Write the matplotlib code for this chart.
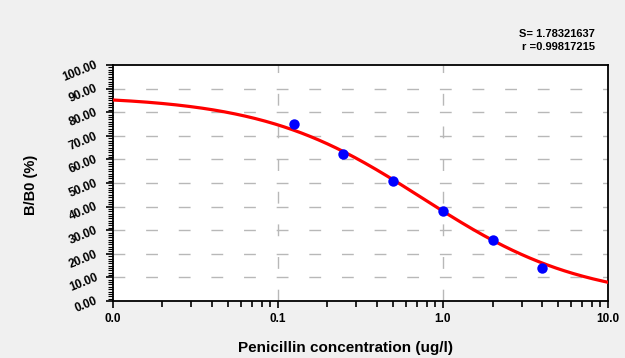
import numpy as np
import matplotlib
matplotlib.use("Agg")
import matplotlib.pyplot as plt
from matplotlib.ticker import FixedLocator, MultipleLocator, NullFormatter

plt.rcParams['font.family'] = ['Liberation Sans', 'DejaVu Sans']

# data
conc = [0.125, 0.25, 0.5, 1.0, 2.0, 4.0]
bb0 = [75.0, 62.5, 51.0, 38.1, 25.7, 14.0]
# fitted 4PL curve parameters (top, bottom, midpoint, slope)
fit_top, fit_bottom, fit_c, fit_b = 87.0, 0.0, 0.755, 0.89
x_ticks = [0.01, 0.1, 1.0, 10.0]
x_ticklabels = ["0.0", "0.1", "1.0", "10.0"]
y_ticks = list(range(0, 101, 10))
y_ticklabels = ["%.2f" % v for v in y_ticks]
stats_text = ["S= 1.78321637", "r =0.99817215"]

fig = plt.figure(figsize=(6.25, 3.58), dpi=100)
fig.patch.set_facecolor('#f0f0f0')
ax = fig.add_axes([112.5/625, 1-301/358, (608-112.5)/625, (301-65)/358])
ax.set_facecolor('white')

ax.set_xscale('log')
ax.set_xlim(0.01, 10)
ax.set_ylim(0, 100)

# grid
for yv in range(10, 100, 10):
    ax.axhline(yv, color='#b8b8b8', lw=1.0, linestyle=(0, (8.5, 15)), zorder=1)
for xv in [0.1, 1.0]:
    ax.axvline(xv, color='#b8b8b8', lw=1.0, linestyle=(0, (8.5, 15)), zorder=1)

# curve
xc = np.logspace(-2, 1, 400)
yc = fit_bottom + (fit_top - fit_bottom) / (1 + (xc / fit_c) ** fit_b)
ax.plot(xc, yc, color='#ff0000', lw=2.3, zorder=3, clip_on=True)

# points
ax.plot(conc, bb0, 'o', color='#0000ff', markersize=7.5, markeredgewidth=0, zorder=4)

# ticks
ax.xaxis.set_major_locator(FixedLocator(x_ticks))
ax.set_xticklabels(x_ticklabels, fontsize=8.5, fontweight='bold')
ax.xaxis.set_minor_locator(matplotlib.ticker.LogLocator(base=10, subs=np.arange(2, 10)))
ax.xaxis.set_minor_formatter(NullFormatter())
ax.tick_params(axis='x', which='major', direction='out', length=5, width=1.2, pad=4)
ax.tick_params(axis='x', which='minor', direction='out', length=4, width=1.2)

ax.yaxis.set_major_locator(FixedLocator(y_ticks))
ax.yaxis.set_minor_locator(MultipleLocator(1))
ax.set_yticklabels(y_ticklabels, fontsize=8.5, fontweight='bold', rotation=22,
                   rotation_mode='anchor', ha='right', va='center')
ax.tick_params(axis='y', which='major', direction='out', length=5, width=1.2, pad=6)
ax.tick_params(axis='y', which='minor', direction='out', length=3.5, width=0.8)

for s in ax.spines.values():
    s.set_linewidth(1.3)
    s.set_color('black')

fig.text(345/625, 1-348/358, "Penicillin concentration (ug/l)", fontsize=11,
         fontweight='bold', ha='center', va='center')
fig.text(31/625, 1-185/358, "B/B0 (%)", rotation=90, fontsize=10.5, fontweight='bold',
         ha='center', va='center')

fig.text(595/625, 1-34/358, stats_text[0], fontsize=8, fontweight='bold', ha='right', va='center')
fig.text(595/625, 1-47/358, stats_text[1], fontsize=8, fontweight='bold', ha='right', va='center')

fig.savefig("out.png", dpi=100, facecolor=fig.get_facecolor())
